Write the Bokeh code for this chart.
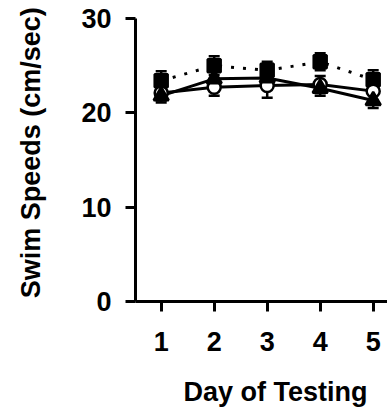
import math
from bokeh.plotting import figure
from bokeh.models import Range1d, FixedTicker, Whisker, TeeHead, ColumnDataSource
from bokeh.core.properties import value
from bokeh.embed import file_html
from bokeh.resources import INLINE

days = [1, 2, 3, 4, 5]
square_vals = [23.4, 25.0, 24.5, 25.4, 23.5]
square_err = [1.0, 1.0, 0.9, 0.9, 1.0]
circle_vals = [22.1, 22.7, 22.9, 23.0, 22.3]
circle_err = [0.8, 0.9, 1.3, 0.9, 1.0]
tri_vals = [21.8, 23.6, 23.7, 22.6, 21.3]
tri_err = [0.7, 0.8, 0.8, 0.8, 0.8]
y_ticks = [0, 10, 20, 30]
x_title = "Day of Testing"
y_title = "Swim Speeds (cm/sec)"

FONT = "Liberation Sans"
X0, X1 = 0.515, 5.27     # x-axis extent
Y0, Y1 = 0, 30           # y-axis extent

p = figure(width=387, height=410, output_backend="svg", toolbar_location=None,
           x_range=Range1d(-2.032, 5.27), y_range=Range1d(-11.53, 31.9),
           min_border=0)
p.outline_line_color = None
p.grid.visible = False
p.background_fill_color = "white"

for ax in (p.xaxis[0], p.yaxis[0]):
    ax.axis_line_width = 3
    ax.major_tick_line_width = 3
    ax.major_tick_out = 10
    ax.major_tick_in = 0
    ax.minor_tick_line_color = None
    ax.major_label_text_font = FONT
    ax.major_label_text_font_style = "bold"
    ax.major_label_text_font_size = "27px"
    ax.major_label_text_color = "black"

p.xaxis.fixed_location = Y0
p.xaxis.bounds = (X0, X1)
p.yaxis.fixed_location = X0
p.yaxis.bounds = (Y0, Y1)
p.xaxis.ticker = FixedTicker(ticks=days)
p.yaxis.ticker = FixedTicker(ticks=y_ticks)
p.xaxis.major_label_standoff = 20
p.yaxis.major_label_standoff = 14

p.text(x=[3.157], y=[-9.58], text=[x_title], text_align="center",
       text_baseline="alphabetic", text_font=value(FONT), text_font_style="bold",
       text_font_size="27px", text_color="black")
p.text(x=[-1.45], y=[15.77], text=[y_title], angle=math.pi / 2, text_align="center",
       text_baseline="alphabetic", text_font=value(FONT), text_font_style="bold",
       text_font_size="27px", text_color="black")

series = [
    (square_vals, square_err, "square", "black", "3 9"),
    (circle_vals, circle_err, "circle", "white", "solid"),
    (tri_vals, tri_err, "triangle", "black", "solid"),
]

for vals, err, marker, fill, dash in series:
    src = ColumnDataSource(dict(x=days, y=vals,
                                lo=[v - e for v, e in zip(vals, err)],
                                hi=[v + e for v, e in zip(vals, err)]))
    w = Whisker(source=src, base="x", lower="lo", upper="hi", dimension="height",
                line_color="black", line_width=2.5,
                upper_head=TeeHead(size=11, line_width=2.5, line_color="black"),
                lower_head=TeeHead(size=11, line_width=2.5, line_color="black"))
    p.add_layout(w)
    p.line("x", "y", source=src, line_color="black", line_width=3, line_dash=dash)

for vals, err, marker, fill, dash in series:
    src = ColumnDataSource(dict(x=days, y=vals))
    size = 15 if marker == "triangle" else 13
    p.scatter("x", "y", source=src, marker=marker, size=size,
              fill_color=fill, line_color="black", line_width=2.5)

open("out.html", "w").write(file_html(p, INLINE))
